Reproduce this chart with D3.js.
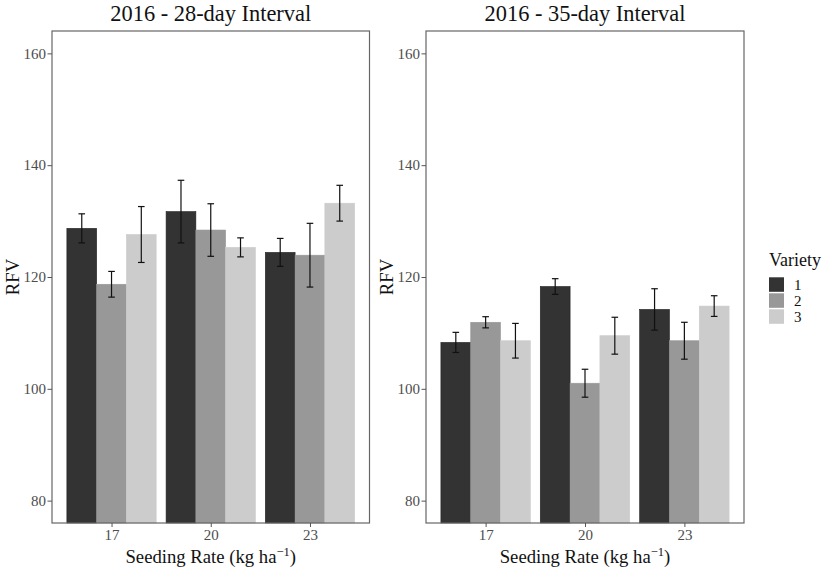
<!DOCTYPE html>
<html><head><meta charset="utf-8">
<script src="https://cdn.jsdelivr.net/npm/d3@7"></script>
<style>body{margin:0;background:#fff}svg{display:block}text{font-family:"Liberation Serif","Times New Roman",serif}</style>
</head><body><svg id="c" width="827" height="568"></svg>
<script>
const panels = ["2016 - 28-day Interval", "2016 - 35-day Interval"];
const rates = ["17", "20", "23"];
const varieties = ["1", "2", "3"];
const yTicks = [80, 100, 120, 140, 160];
const colors = ["#333333", "#989898", "#cccccc"];
// means [rate][variety]
const means28 = [[128.7, 118.7, 127.6], [131.7, 128.4, 125.3], [124.4, 123.9, 133.2]];
const err28   = [[2.6, 2.3, 5.0], [5.6, 4.7, 1.7], [2.5, 5.7, 3.2]];
const means35 = [[108.3, 111.9, 108.6], [118.3, 101.0, 109.5], [114.2, 108.6, 114.8]];
const err35   = [[1.8, 1.0, 3.1], [1.4, 2.5, 3.3], [3.7, 3.3, 1.85]];

(function () {
const svg = d3.select("#c");
const pTop = 31, pBottom = 523;
const panelX = [[52, 369.5], [426, 744]];
const y = d3.scaleLinear().domain([76, 164]).range([pBottom, pTop]);
const data = [[means28, err28], [means35, err35]];

panels.forEach((title, p) => {
  const [x0, x1] = panelX[p];
  const g = svg.append("g");
  const unit = (x1 - x0) / 3.2;
  const cx = d3.scalePoint().domain(rates).range([x0 + 0.6 * unit, x1 - 0.6 * unit]);
  const inner = d3.scaleBand().domain(varieties).range([-0.45 * unit, 0.45 * unit]);
  const [m, e] = data[p];
  rates.forEach((r, i) => {
    varieties.forEach((v, j) => {
      const bx = cx(r) + inner(v);
      g.append("rect").attr("x", bx).attr("width", inner.bandwidth())
        .attr("y", y(m[i][j])).attr("height", pBottom - y(m[i][j]))
        .attr("fill", colors[j]).attr("stroke", j === 0 ? "#222" : colors[j]).attr("stroke-width", 0.6);
    });
  });
  rates.forEach((r, i) => {
    varieties.forEach((v, j) => {
      const ex = cx(r) + inner(v) + inner.bandwidth() / 2;
      const hi = y(m[i][j] + e[i][j]), lo = y(m[i][j] - e[i][j]);
      const w = 3.3;
      const eg = g.append("g").attr("stroke", "#111").attr("stroke-width", 1.2).attr("fill", "none");
      eg.append("line").attr("x1", ex).attr("x2", ex).attr("y1", hi).attr("y2", lo);
      eg.append("line").attr("x1", ex - w).attr("x2", ex + w).attr("y1", hi).attr("y2", hi);
      eg.append("line").attr("x1", ex - w).attr("x2", ex + w).attr("y1", lo).attr("y2", lo);
    });
  });
  g.append("rect").attr("x", x0).attr("y", pTop).attr("width", x1 - x0).attr("height", pBottom - pTop)
    .attr("fill", "none").attr("stroke", "#666").attr("stroke-width", 1.2);
  const ya = g.append("g").attr("transform", `translate(${x0},0)`)
    .call(d3.axisLeft(y).tickValues(yTicks).tickSize(4.5).tickPadding(1.5));
  ya.select(".domain").remove();
  ya.selectAll("line").attr("stroke", "#555");
  ya.selectAll("text").attr("font-size", 15).attr("fill", "#4d4d4d");
  const xa = g.append("g").attr("transform", `translate(0,${pBottom})`)
    .call(d3.axisBottom(cx).tickSize(4).tickPadding(2.5));
  xa.select(".domain").remove();
  xa.selectAll("line").attr("stroke", "#555");
  xa.selectAll("text").attr("font-size", 15).attr("fill", "#4d4d4d");
  const mid = (x0 + x1) / 2;
  g.append("text").attr("x", mid).attr("y", 21).attr("text-anchor", "middle")
    .attr("font-size", 22.4).attr("fill", "#111").text(title);
  const xl = g.append("text").attr("x", mid).attr("y", 563).attr("text-anchor", "middle")
    .attr("font-size", 18.7).attr("fill", "#111");
  xl.append("tspan").text("Seeding Rate (kg ha");
  xl.append("tspan").attr("font-size", 12.5).attr("dy", -7).text("−1");
  xl.append("tspan").attr("dy", 7).text(")");
  g.append("text").attr("transform", `translate(${x0 - 33},${(pTop + pBottom) / 2}) rotate(-90)`)
    .attr("text-anchor", "middle").attr("font-size", 18.7).attr("fill", "#111").text("RFV");
});

const lg = svg.append("g");
lg.append("text").attr("x", 769).attr("y", 266).attr("font-size", 18).attr("fill", "#111").text("Variety");
varieties.forEach((v, j) => {
  const ky = 277.3 + j * 16;
  lg.append("rect").attr("x", 769).attr("y", ky).attr("width", 15).attr("height", 14.5)
    .attr("fill", colors[j]);
  lg.append("text").attr("x", 794).attr("y", ky + 12.5).attr("font-size", 15).attr("fill", "#111").text(v);
});
})();
</script></body></html>
